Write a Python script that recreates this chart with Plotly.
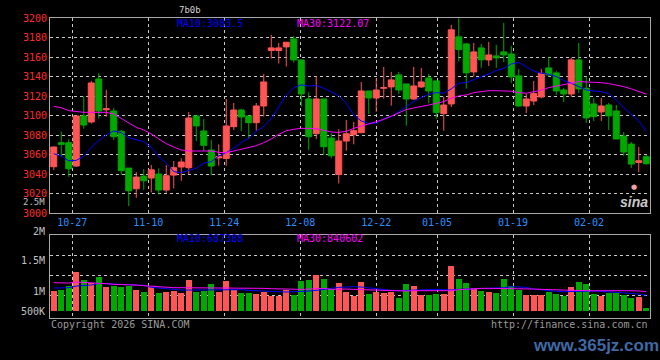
import plotly.graph_objects as go

# ---------------- data ----------------
dates = ["10-22", "10-23", "10-24",
         "10-27", "10-28", "10-29", "10-30", "10-31",
         "11-03", "11-04", "11-05", "11-06", "11-07",
         "11-10", "11-11", "11-12", "11-13", "11-14",
         "11-17", "11-18", "11-19", "11-20", "11-21",
         "11-24", "11-25", "11-26", "11-27", "11-28",
         "12-01", "12-02", "12-03", "12-04", "12-05",
         "12-08", "12-09", "12-10", "12-11", "12-12",
         "12-15", "12-16", "12-17", "12-18", "12-19",
         "12-22", "12-23", "12-24", "12-25", "12-26",
         "12-29", "12-30", "12-31",
         "01-05", "01-06", "01-07", "01-08", "01-09",
         "01-12", "01-13", "01-14", "01-15", "01-16",
         "01-19", "01-20", "01-21", "01-22", "01-23",
         "01-26", "01-27", "01-28", "01-29", "01-30",
         "02-02", "02-03", "02-04", "02-05", "02-06",
         "02-09", "02-10", "02-11", "02-12"]

open_ = [3047.7, 3072.3, 3072.3, 3048.4, 3099.7, 3093.5, 3137.6, 3106.0, 3104.8, 3084.0,
         3046.3, 3025.1, 3038.1, 3036.1, 3040.2, 3023.8, 3039.1, 3047.4, 3046.7, 3099.7,
         3084.3, 3064.8, 3056.7, 3056.2, 3088.7, 3105.8, 3099.7, 3092.8, 3109.9, 3166.7,
         3166.7, 3170.4, 3178.6, 3157.1, 3117.1, 3081.5, 3117.1, 3077.1, 3039.8, 3074.0,
         3080.5, 3082.6, 3125.3, 3118.1, 3128.0, 3129.4, 3141.7, 3132.5, 3117.1, 3129.4,
         3138.6, 3135.6, 3102.1, 3112.0, 3180.7, 3173.5, 3144.8, 3169.4, 3157.1, 3161.2,
         3165.3, 3163.2, 3140.7, 3109.9, 3115.0, 3119.1, 3148.9, 3143.8, 3126.3, 3122.2,
         3157.1, 3128.0, 3112.0, 3103.8, 3110.9, 3104.8, 3079.1, 3070.9, 3052.1, 3058.0]
high = [3068.3, 3083.6, 3076.0, 3099.7, 3119.8, 3135.6, 3143.4, 3126.4, 3107.9, 3085.3,
        3046.3, 3042.2, 3045.3, 3049.4, 3046.0, 3049.4, 3053.5, 3056.2, 3103.8, 3099.7,
        3096.6, 3075.0, 3070.6, 3117.1, 3113.0, 3106.8, 3099.7, 3113.0, 3142.7, 3182.7,
        3174.5, 3175.2, 3181.7, 3157.1, 3123.9, 3140.3, 3117.1, 3081.9, 3086.0, 3095.6,
        3093.5, 3134.5, 3125.3, 3138.3, 3149.9, 3144.8, 3144.8, 3132.5, 3149.9, 3148.9,
        3142.7, 3135.6, 3119.5, 3193.0, 3199.8, 3174.5, 3174.5, 3173.5, 3175.6, 3172.5,
        3195.0, 3171.5, 3147.9, 3122.2, 3135.6, 3147.9, 3160.2, 3145.8, 3128.4, 3159.5,
        3174.5, 3140.0, 3117.8, 3118.1, 3113.0, 3110.9, 3083.2, 3073.0, 3067.9, 3060.0]
low = [3044.3, 3057.9, 3037.4, 3047.5, 3086.7, 3091.8, 3096.9, 3099.0, 3075.0, 3039.5,
       3007.3, 3015.9, 3024.1, 3021.4, 3019.3, 3021.0, 3025.5, 3033.3, 3039.8, 3074.0,
       3063.8, 3039.1, 3048.7, 3048.7, 3085.3, 3084.3, 3076.4, 3084.6, 3099.0, 3158.5,
       3153.3, 3150.3, 3154.4, 3109.2, 3064.8, 3076.1, 3059.7, 3056.2, 3030.6, 3064.1,
       3070.6, 3081.9, 3101.7, 3104.1, 3117.4, 3110.3, 3122.2, 3089.7, 3116.1, 3128.4,
       3112.6, 3096.9, 3084.6, 3108.9, 3155.4, 3127.7, 3140.0, 3148.9, 3150.9, 3148.9,
       3155.0, 3133.5, 3108.9, 3102.7, 3110.9, 3117.8, 3139.7, 3121.2, 3114.0, 3119.1,
       3123.2, 3092.5, 3094.5, 3094.5, 3085.3, 3076.1, 3058.6, 3046.3, 3042.2, 3049.7]
close = [3067.9, 3070.6, 3045.6, 3099.7, 3090.4, 3133.5, 3104.8, 3107.0, 3078.5, 3043.6,
         3023.1, 3037.1, 3033.3, 3044.6, 3023.8, 3038.5, 3046.7, 3052.5, 3097.6, 3089.5,
         3069.6, 3048.4, 3058.0, 3089.4, 3105.8, 3098.6, 3092.8, 3109.9, 3134.5, 3169.4,
         3169.4, 3175.2, 3157.1, 3122.2, 3078.5, 3117.1, 3068.2, 3058.9, 3074.0, 3081.5,
         3084.6, 3125.3, 3118.1, 3126.3, 3128.7, 3136.6, 3126.3, 3117.1, 3130.4, 3134.5,
         3125.3, 3103.1, 3110.9, 3187.9, 3167.7, 3143.8, 3165.3, 3157.1, 3162.2, 3159.1,
         3162.2, 3139.7, 3109.9, 3117.1, 3122.6, 3143.4, 3141.7, 3125.3, 3122.2, 3157.1,
         3127.4, 3097.6, 3099.0, 3109.9, 3099.7, 3076.1, 3062.7, 3050.4, 3053.8, 3050.8]

ma10 = [3061.0, 3058.6, 3053.8, 3054.2, 3058.3, 3067.5, 3074.4, 3080.2, 3084.3, 3082.6,
        3077.4, 3075.0, 3073.3, 3067.5, 3057.9, 3051.5, 3042.7, 3041.6, 3043.7, 3046.1,
        3051.3, 3052.9, 3058.8, 3062.2, 3066.7, 3072.4, 3076.9, 3084.0, 3089.0, 3097.0,
        3109.0, 3121.0, 3128.7, 3131.5, 3130.4, 3130.8, 3128.0, 3123.9, 3120.5, 3112.6,
        3100.7, 3094.5, 3092.1, 3092.1, 3096.6, 3099.0, 3104.1, 3109.2, 3114.4, 3118.5,
        3121.9, 3123.6, 3122.9, 3127.4, 3133.2, 3133.8, 3137.3, 3140.0, 3142.7, 3146.2,
        3148.5, 3153.0, 3154.4, 3150.3, 3145.8, 3143.4, 3142.4, 3140.0, 3135.9, 3133.2,
        3129.7, 3126.3, 3125.3, 3124.6, 3122.6, 3116.1, 3108.2, 3101.4, 3094.5, 3084.0]
ma30 = [3109.5, 3108.2, 3105.1, 3104.1, 3103.4, 3103.4, 3103.4, 3103.4, 3101.7, 3097.3,
        3092.1, 3088.0, 3085.3, 3081.2, 3076.1, 3071.3, 3067.9, 3064.8, 3063.8, 3063.8,
        3063.8, 3063.8, 3062.4, 3062.1, 3063.8, 3065.5, 3067.2, 3069.2, 3072.3, 3076.1,
        3080.9, 3084.6, 3086.0, 3087.0, 3087.0, 3086.7, 3085.0, 3083.2, 3082.9, 3083.9,
        3087.0, 3089.5, 3092.1, 3093.8, 3096.2, 3099.3, 3103.1, 3106.2, 3107.9, 3109.2,
        3110.9, 3112.6, 3114.4, 3117.8, 3120.2, 3121.2, 3123.6, 3124.6, 3125.6, 3125.6,
        3125.6, 3125.0, 3123.6, 3122.9, 3124.6, 3126.0, 3128.7, 3130.4, 3131.5, 3133.5,
        3134.9, 3134.5, 3134.2, 3133.8, 3132.8, 3131.5, 3129.7, 3127.4, 3124.6, 3122.1]

volume = [880e3, 939e3, 1115e3, 1716e3, 1349e3, 1232e3, 1481e3, 1041e3, 1115e3, 1041e3,
          1085e3, 909e3, 821e3, 1071e3, 777e3, 836e3, 895e3, 792e3, 1349e3, 836e3,
          880e3, 1173e3, 836e3, 1305e3, 909e3, 777e3, 777e3, 733e3, 821e3, 660e3,
          660e3, 909e3, 689e3, 1305e3, 1349e3, 1569e3, 1393e3, 953e3, 1232e3, 836e3,
          645e3, 1276e3, 733e3, 836e3, 792e3, 836e3, 557e3, 1173e3, 1085e3, 689e3,
          689e3, 748e3, 748e3, 1965e3, 1393e3, 1217e3, 1012e3, 865e3, 821e3, 777e3,
          1393e3, 1085e3, 909e3, 689e3, 689e3, 689e3, 836e3, 733e3, 645e3, 1041e3,
          1261e3, 1173e3, 733e3, 660e3, 777e3, 777e3, 689e3, 557e3, 601e3, 117e3]
vol_ma10 = [997e3, 997e3, 1012e3, 1085e3, 1100e3, 1129e3, 1203e3, 1188e3, 1173e3, 1173e3,
            1159e3, 1144e3, 1115e3, 1027e3, 997e3, 953e3, 924e3, 909e3, 909e3, 909e3,
            909e3, 909e3, 909e3, 924e3, 939e3, 924e3, 895e3, 880e3, 851e3, 836e3,
            821e3, 821e3, 836e3, 836e3, 865e3, 895e3, 953e3, 983e3, 1027e3, 1056e3,
            1056e3, 1041e3, 997e3, 953e3, 924e3, 895e3, 880e3, 895e3, 909e3, 924e3,
            953e3, 939e3, 924e3, 909e3, 939e3, 953e3, 968e3, 983e3, 983e3, 983e3,
            1012e3, 1056e3, 1056e3, 1027e3, 953e3, 909e3, 865e3, 851e3, 836e3, 851e3,
            865e3, 865e3, 865e3, 851e3, 836e3, 821e3, 792e3, 763e3, 733e3, 687e3]
vol_ma30 = [1232e3, 1217e3, 1217e3, 1261e3, 1247e3, 1232e3, 1232e3, 1188e3, 1159e3, 1159e3,
            1144e3, 1129e3, 1100e3, 1071e3, 1041e3, 1012e3, 1012e3, 1012e3, 1012e3, 1012e3,
            1012e3, 1012e3, 1012e3, 1012e3, 1012e3, 983e3, 983e3, 983e3, 983e3, 968e3,
            953e3, 953e3, 953e3, 939e3, 953e3, 968e3, 983e3, 939e3, 953e3, 953e3,
            939e3, 924e3, 909e3, 909e3, 895e3, 880e3, 865e3, 865e3, 880e3, 880e3,
            880e3, 880e3, 865e3, 880e3, 924e3, 953e3, 983e3, 983e3, 983e3, 983e3,
            983e3, 983e3, 983e3, 983e3, 953e3, 939e3, 924e3, 909e3, 909e3, 895e3,
            895e3, 880e3, 880e3, 880e3, 880e3, 895e3, 909e3, 880e3, 865e3, 841e3]

tick_dates = ["10-27", "11-10", "11-24", "12-08", "12-22", "01-05", "01-19", "02-02"]
price_ticks = [3000, 3020, 3040, 3060, 3080, 3100, 3120, 3140, 3160, 3180, 3200]
vol_tick_labels = ["2M", "1.5M", "1M", "500K"]
legend_price = ["MA10:3083.5", "MA30:3122.07"]
legend_volume = ["MA10:687388", "MA30:840602"]

# ---------------- styling ----------------
RED = "#ff5555"
GREEN = "#00a800"
BLUE = "#0000ff"
MAG = "#ff00ff"
GRID = "#c8c8c8"
BORDER = "#a8a8a8"
MONO = "DejaVu Sans Mono"

x = list(range(len(dates)))
# Sina places the date grid slightly wider than the candle pitch
tick_pos = [2.47 + (dates.index(d) - 3) * 76 / 75 for d in tick_dates]
vol_colors = [RED if c >= o else GREEN for o, c in zip(open_, close)]

fig = go.Figure()
fig.add_trace(go.Candlestick(
    x=x, open=open_, high=high, low=low, close=close, text=dates,
    increasing=dict(line=dict(color=RED, width=1), fillcolor=RED),
    decreasing=dict(line=dict(color=GREEN, width=1), fillcolor=GREEN),
    whiskerwidth=0, xaxis="x", yaxis="y", showlegend=False))
fig.add_trace(go.Scatter(x=x, y=ma10, mode="lines", line=dict(color=BLUE, width=1),
                         xaxis="x", yaxis="y", showlegend=False))
fig.add_trace(go.Scatter(x=x, y=ma30, mode="lines", line=dict(color=MAG, width=1),
                         xaxis="x", yaxis="y", showlegend=False))
fig.add_trace(go.Bar(x=x, y=volume, marker=dict(color=vol_colors, line=dict(width=0)),
                     width=0.8, xaxis="x2", yaxis="y2", showlegend=False))
fig.add_trace(go.Scatter(x=x, y=vol_ma10, mode="lines", line=dict(color=BLUE, width=1),
                         xaxis="x2", yaxis="y2", showlegend=False))
fig.add_trace(go.Scatter(x=x, y=vol_ma30, mode="lines", line=dict(color=MAG, width=1),
                         xaxis="x2", yaxis="y2", showlegend=False))

L, R, T, B = 50, 10, 18, 42
W, H = 660, 360
PW, PH = W - L - R, H - T - B


def px_x(px):
    return (px - L) / PW


def px_y(py):
    return (H - B - py) / PH


axis_common = dict(showline=True, linecolor=BORDER, linewidth=1, mirror=True,
                   zeroline=False, showgrid=True, gridcolor=GRID, griddash="dot",
                   gridwidth=1, ticks="")

fig.update_layout(
    width=W, height=H,
    margin=dict(l=L, r=R, t=T, b=B),
    paper_bgcolor="#000000", plot_bgcolor="#000000",
    boxgap=0.2, boxgroupgap=0,
    bargap=0,
    xaxis=dict(domain=[0, 1], range=[-0.5, 79.5], anchor="y",
               tickvals=tick_pos, ticktext=tick_dates,
               tickfont=dict(family=MONO, size=10, color="#2a90ff"),
               rangeslider=dict(visible=False), **axis_common),
    yaxis=dict(domain=[px_y(213.3), 1], range=[3000, 3200], anchor="x",
               tickvals=price_ticks, ticktext=[str(v) for v in price_ticks],
               tickfont=dict(family=MONO, size=10, color="#ff2a2a"),
               **axis_common),
    xaxis2=dict(domain=[0, 1], range=[-0.5, 79.5], anchor="y2",
                tickvals=tick_pos, showticklabels=False, **axis_common),
    yaxis2=dict(domain=[0, px_y(234.7)], range=[-321000, 3344000], anchor="x2",
                tickvals=[691000, 1571000, 2451000], showticklabels=False,
                **axis_common),
)

ann = []
# MA legends
ann.append(dict(x=px_x(175), y=px_y(23.5), text=legend_price[0], font=dict(color=BLUE)))
ann.append(dict(x=px_x(295), y=px_y(23.5), text=legend_price[1], font=dict(color=MAG)))
ann.append(dict(x=px_x(175), y=px_y(238.5), text=legend_volume[0], font=dict(color=BLUE)))
ann.append(dict(x=px_x(295), y=px_y(238.5), text=legend_volume[1], font=dict(color=MAG)))
# volume axis labels (Sina positions)
for lab, py in zip(vol_tick_labels, [231, 260.5, 291, 311]):
    ann.append(dict(x=px_x(47), y=px_y(py), text=lab, xanchor="right",
                    font=dict(color="#c0c0c0")))
ann.append(dict(x=px_x(47), y=px_y(202.3), text="2.5M", xanchor="right",
                font=dict(color="#c0c0c0", size=9)))
# footer
ann.append(dict(x=px_x(49), y=px_y(324), text="Copyright 2026 SINA.COM",
                font=dict(color="#9a9a9a")))
ann.append(dict(x=px_x(650), y=px_y(324), text="http://finance.sina.com.cn",
                xanchor="right", font=dict(color="#9a9a9a")))
# title
ann.append(dict(x=px_x(177), y=px_y(10), text="7b0b",
                font=dict(color="#d0d0d0", size=9)))
# sina logo
ann.append(dict(x=px_x(634), y=px_y(201.5), text="<b><i>sina</i></b>", xanchor="center",
                font=dict(family="Liberation Sans", size=14, color="#c8c8c8")))
ann.append(dict(x=px_x(634), y=px_y(186.5), text="●", xanchor="center",
                font=dict(family="DejaVu Sans", size=7, color="#f4a0a0")))
# site watermark
ann.append(dict(x=px_x(596), y=px_y(345), text="<b>www.365jz.com</b>", xanchor="center",
                font=dict(family="Liberation Sans", size=17, color="#3f6aa6")))

for a in ann:
    a.setdefault("xanchor", "left")
    a["xref"] = "paper"
    a["yref"] = "paper"
    a["yanchor"] = "middle"
    a["showarrow"] = False
    f = a.setdefault("font", {})
    f.setdefault("family", MONO)
    f.setdefault("size", 10)
    fig.add_annotation(**a)

fig.write_html("out.html")
